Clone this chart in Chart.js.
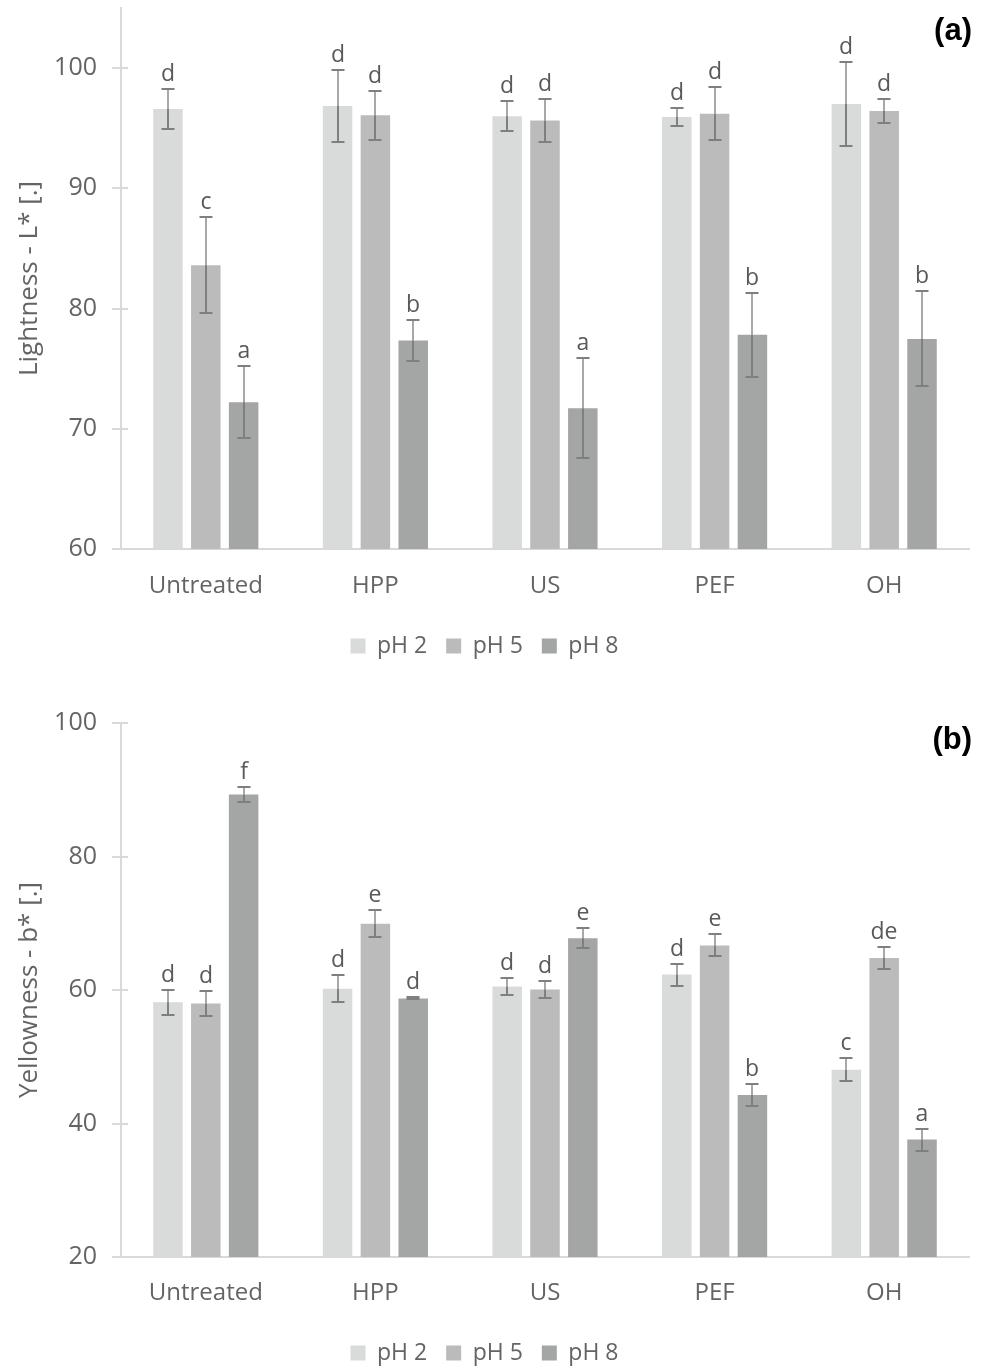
<!DOCTYPE html>
<html>
<head>
<meta charset="utf-8">
<script src="https://cdn.jsdelivr.net/npm/chart.js@4.4.1/dist/chart.umd.min.js"></script>
<style>
  html, body { margin: 0; padding: 0; background: #fff; overflow: hidden; width: 982px; height: 1366px; }
  .panel { position: absolute; left: 0; width: 982px; }
  #panelA { top: 0; height: 690px; }
  #panelB { top: 680px; height: 700px; }
  canvas { display: block; }
</style>
</head>
<body>
<div class="panel" id="panelA"><canvas id="chartA" width="982" height="690"></canvas></div>
<div class="panel" id="panelB"><canvas id="chartB" width="982" height="700"></canvas></div>
<script>
// Treatments on the x axis and the three pH levels
const categories = ['Untreated', 'HPP', 'US', 'PEF', 'OH'];
const seriesNames = ['pH 2', 'pH 5', 'pH 8'];

// (a) Lightness L* — means, standard deviations, significance letters
const lightnessPH2 = [96.6, 96.85, 96.0, 95.93, 97.02];
const lightnessPH5 = [83.6, 96.07, 95.64, 96.2, 96.43];
const lightnessPH8 = [72.2, 77.34, 71.7, 77.83, 77.47];
const lightnessErrPH2 = [1.7, 3.0, 1.25, 0.72, 3.5];
const lightnessErrPH5 = [4.0, 2.05, 1.75, 2.2, 0.98];
const lightnessErrPH8 = [3.0, 1.7, 4.15, 3.5, 3.95];
const lightnessLetPH2 = ['d', 'd', 'd', 'd', 'd'];
const lightnessLetPH5 = ['c', 'd', 'd', 'd', 'd'];
const lightnessLetPH8 = ['a', 'b', 'a', 'b', 'b'];
const lightnessTicks = [60, 70, 80, 90, 100];

// (b) Yellowness b* — means, standard deviations, significance letters
const yellownessPH2 = [58.17, 60.2, 60.54, 62.32, 48.07];
const yellownessPH5 = [57.98, 69.92, 60.09, 66.67, 64.81];
const yellownessPH8 = [89.27, 58.74, 67.75, 44.26, 37.6];
const yellownessErrPH2 = [1.85, 2.05, 1.3, 1.65, 1.7];
const yellownessErrPH5 = [1.9, 2.05, 1.3, 1.65, 1.6];
const yellownessErrPH8 = [1.15, 0.15, 1.5, 1.65, 1.65];
const yellownessLetPH2 = ['d', 'd', 'd', 'd', 'c'];
const yellownessLetPH5 = ['d', 'e', 'd', 'e', 'de'];
const yellownessLetPH8 = ['f', 'd', 'e', 'b', 'a'];
const yellownessTicks = [20, 40, 60, 80, 100];

const barColors = ['#d9dada', '#bbbbbb', '#a4a5a5'];
const textColor = '#646464';
const axisColor = '#d9d9d9';
const FONT = "'Open Sans', 'DejaVu Sans', sans-serif";

Chart.defaults.font.family = FONT;
Chart.defaults.font.size = 23;
Chart.defaults.color = textColor;

// Error bars, significance letters and y tick marks
const annotatePlugin = {
  id: 'annotate',
  afterDatasetsDraw(chart) {
    const ctx = chart.ctx;
    const ys = chart.scales.y;
    ctx.save();
    chart.data.datasets.forEach((ds, di) => {
      const meta = chart.getDatasetMeta(di);
      meta.data.forEach((bar, i) => {
        const v = ds.data[i], e = ds.errors[i];
        const x = Math.round(bar.x);
        const yTop = ys.getPixelForValue(v + e);
        const yBot = ys.getPixelForValue(v - e);
        const yBar = ys.getPixelForValue(v);
        ctx.lineWidth = 2;
        // whisker part above the bar
        ctx.strokeStyle = '#a8a8a8';
        ctx.beginPath(); ctx.moveTo(x, yTop); ctx.lineTo(x, Math.min(yBar, yBot)); ctx.stroke();
        // whisker part over the bar
        ctx.strokeStyle = '#7f7f7f';
        ctx.beginPath(); ctx.moveTo(x, yBar); ctx.lineTo(x, yBot); ctx.stroke();
        // caps
        ctx.beginPath();
        ctx.moveTo(x - 6.5, Math.round(yTop)); ctx.lineTo(x + 6.5, Math.round(yTop));
        ctx.moveTo(x - 6.5, Math.round(yBot)); ctx.lineTo(x + 6.5, Math.round(yBot));
        ctx.stroke();
        // letter
        ctx.fillStyle = '#595959';
        ctx.font = '23px ' + FONT;
        ctx.textAlign = 'center';
        ctx.textBaseline = 'alphabetic';
        ctx.fillText(ds.letters[i], x, yTop - 8);
      });
    });
    // y axis tick marks crossing the axis line
    ctx.strokeStyle = axisColor;
    ctx.lineWidth = 2;
    ys.ticks.forEach(t => {
      const py = Math.round(ys.getPixelForValue(t.value));
      ctx.beginPath(); ctx.moveTo(ys.right - 9, py); ctx.lineTo(ys.right + 7, py); ctx.stroke();
    });
    // panel tag
    const tag = chart.options.plugins.annotate;
    ctx.fillStyle = '#000';
    ctx.font = 'bold 31px "Liberation Sans", Arial, sans-serif';
    ctx.textAlign = 'right';
    ctx.textBaseline = 'middle';
    ctx.fillText(tag.text, tag.x, tag.y);
    ctx.restore();
  }
};

function makeChart(canvasId, cfg) {
  const datasets = [0, 1, 2].map(k => ({
    label: seriesNames[k],
    data: cfg.values[k],
    errors: cfg.errors[k],
    letters: cfg.letters[k],
    backgroundColor: barColors[k],
    borderWidth: 0,
    categoryPercentage: 0.669,
    barPercentage: 0.78
  }));
  return new Chart(document.getElementById(canvasId), {
    type: 'bar',
    data: { labels: categories, datasets },
    plugins: [annotatePlugin],
    options: {
      responsive: false,
      animation: false,
      layout: { autoPadding: false, padding: cfg.padding },
      plugins: {
        tooltip: { enabled: false },
        annotate: cfg.tag,
        legend: {
          position: 'bottom',
          labels: { boxWidth: 15, boxHeight: 15, padding: 19, color: textColor, font: { size: 23 } }
        }
      },
      scales: {
        x: {
          grid: { display: false, drawTicks: false },
          border: { display: true, color: axisColor, width: 2 },
          ticks: { padding: cfg.xPad, color: textColor, font: { size: 24 } },
          afterFit: s => { s.height = cfg.xHeight; s.paddingLeft = 0; s.paddingRight = 0; }
        },
        y: {
          min: cfg.min, max: cfg.max,
          grid: { display: false, drawTicks: false },
          border: { display: true, color: axisColor, width: 2 },
          ticks: { padding: 24, color: textColor, font: { size: 25 } },
          title: { display: true, text: cfg.title, color: textColor, font: { size: 26 }, padding: { top: 14, bottom: 0 } },
          afterBuildTicks: s => { s.ticks = cfg.ticks.map(v => ({ value: v })); },
          afterFit: s => { s.width = 121; s.paddingTop = 0; s.paddingBottom = 0; }
        }
      }
    }
  });
}

makeChart('chartA', {
  values: [lightnessPH2, lightnessPH5, lightnessPH8],
  errors: [lightnessErrPH2, lightnessErrPH5, lightnessErrPH8],
  letters: [lightnessLetPH2, lightnessLetPH5, lightnessLetPH8],
  ticks: lightnessTicks, min: 60, max: 105,
  title: 'Lightness - L* [.]',
  padding: { top: 8, left: 0, right: 13, bottom: 22.5 },
  xHeight: 66.5, xPad: 23,
  tag: { text: '(a)', x: 972, y: 31 }
});

makeChart('chartB', {
  values: [yellownessPH2, yellownessPH5, yellownessPH8],
  errors: [yellownessErrPH2, yellownessErrPH5, yellownessErrPH8],
  letters: [yellownessLetPH2, yellownessLetPH5, yellownessLetPH8],
  ticks: yellownessTicks, min: 20, max: 100,
  title: 'Yellowness - b* [.]',
  padding: { top: 43, left: 0, right: 13, bottom: 5.5 },
  xHeight: 65.5, xPad: 22,
  tag: { text: '(b)', x: 972, y: 60 }
});
</script>
</body>
</html>
